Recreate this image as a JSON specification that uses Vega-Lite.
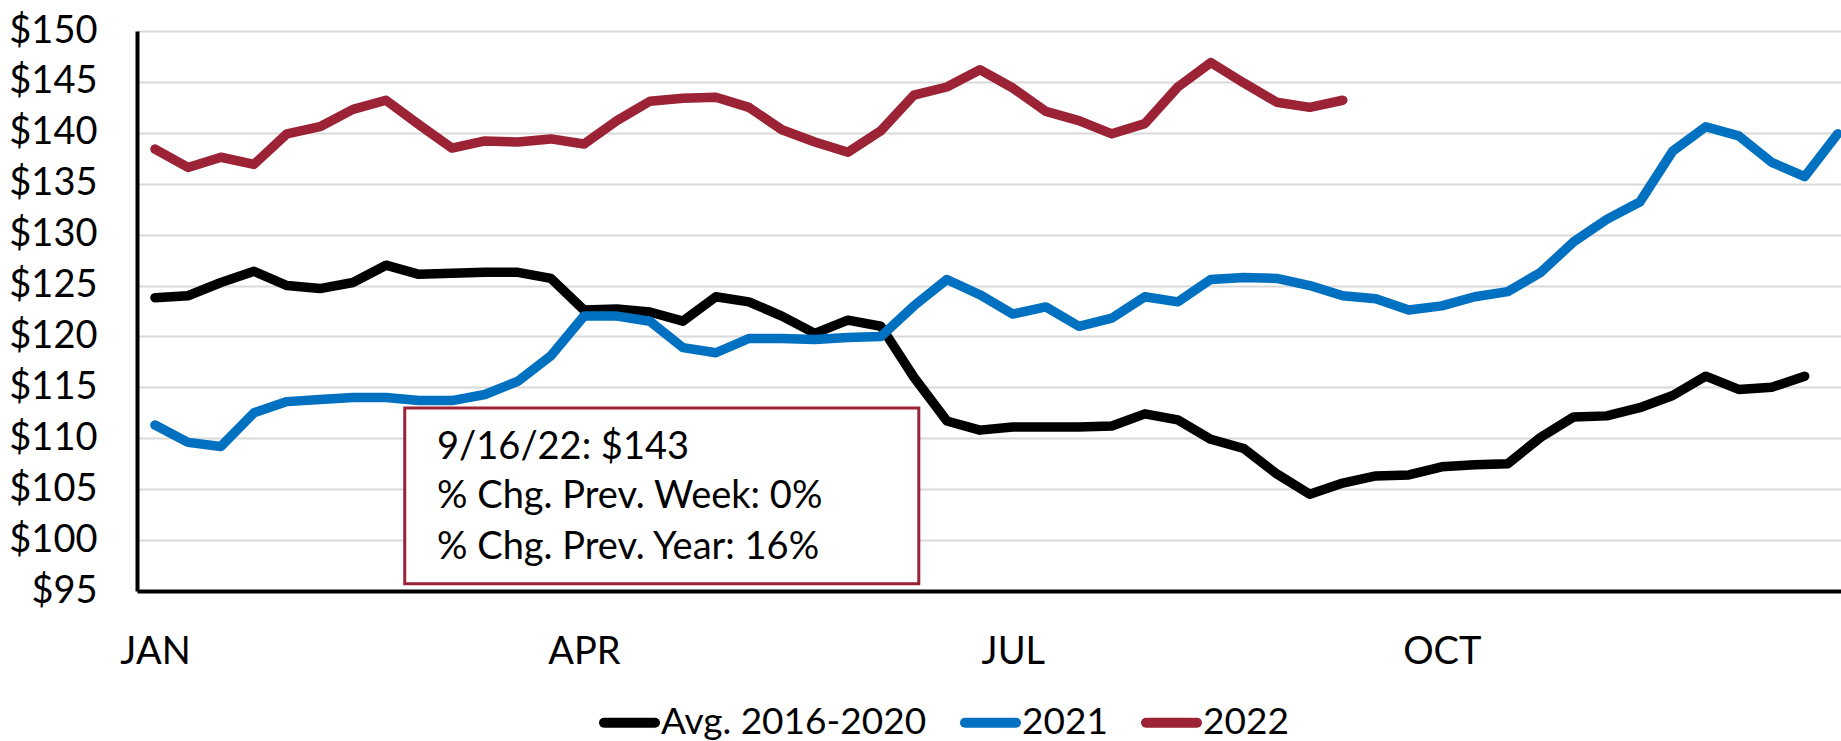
{
  "$schema": "https://vega.github.io/schema/vega-lite/v6.json",
  "autosize": "none",
  "width": 1704,
  "height": 560,
  "padding": {"left": 137, "top": 31, "right": 0, "bottom": 150},
  "background": "white",
  "config": {"view": {"stroke": null}, "font": "Lato"},
  "datasets": {
    "prices": [
      {"series": "Avg. 2016-2020", "week": 1, "price": 123.8},
      {"series": "Avg. 2016-2020", "week": 2, "price": 124.0},
      {"series": "Avg. 2016-2020", "week": 3, "price": 125.3},
      {"series": "Avg. 2016-2020", "week": 4, "price": 126.4},
      {"series": "Avg. 2016-2020", "week": 5, "price": 125.0},
      {"series": "Avg. 2016-2020", "week": 6, "price": 124.7},
      {"series": "Avg. 2016-2020", "week": 7, "price": 125.3},
      {"series": "Avg. 2016-2020", "week": 8, "price": 127.0},
      {"series": "Avg. 2016-2020", "week": 9, "price": 126.1},
      {"series": "Avg. 2016-2020", "week": 10, "price": 126.2},
      {"series": "Avg. 2016-2020", "week": 11, "price": 126.3},
      {"series": "Avg. 2016-2020", "week": 12, "price": 126.3},
      {"series": "Avg. 2016-2020", "week": 13, "price": 125.7},
      {"series": "Avg. 2016-2020", "week": 14, "price": 122.6},
      {"series": "Avg. 2016-2020", "week": 15, "price": 122.7},
      {"series": "Avg. 2016-2020", "week": 16, "price": 122.4},
      {"series": "Avg. 2016-2020", "week": 17, "price": 121.5},
      {"series": "Avg. 2016-2020", "week": 18, "price": 123.9},
      {"series": "Avg. 2016-2020", "week": 19, "price": 123.4},
      {"series": "Avg. 2016-2020", "week": 20, "price": 122.0},
      {"series": "Avg. 2016-2020", "week": 21, "price": 120.3},
      {"series": "Avg. 2016-2020", "week": 22, "price": 121.6},
      {"series": "Avg. 2016-2020", "week": 23, "price": 121.0},
      {"series": "Avg. 2016-2020", "week": 24, "price": 116.0},
      {"series": "Avg. 2016-2020", "week": 25, "price": 111.7},
      {"series": "Avg. 2016-2020", "week": 26, "price": 110.8},
      {"series": "Avg. 2016-2020", "week": 27, "price": 111.1},
      {"series": "Avg. 2016-2020", "week": 28, "price": 111.1},
      {"series": "Avg. 2016-2020", "week": 29, "price": 111.1},
      {"series": "Avg. 2016-2020", "week": 30, "price": 111.2},
      {"series": "Avg. 2016-2020", "week": 31, "price": 112.4},
      {"series": "Avg. 2016-2020", "week": 32, "price": 111.8},
      {"series": "Avg. 2016-2020", "week": 33, "price": 109.9},
      {"series": "Avg. 2016-2020", "week": 34, "price": 109.0},
      {"series": "Avg. 2016-2020", "week": 35, "price": 106.5},
      {"series": "Avg. 2016-2020", "week": 36, "price": 104.5},
      {"series": "Avg. 2016-2020", "week": 37, "price": 105.6},
      {"series": "Avg. 2016-2020", "week": 38, "price": 106.3},
      {"series": "Avg. 2016-2020", "week": 39, "price": 106.4},
      {"series": "Avg. 2016-2020", "week": 40, "price": 107.2},
      {"series": "Avg. 2016-2020", "week": 41, "price": 107.4},
      {"series": "Avg. 2016-2020", "week": 42, "price": 107.5},
      {"series": "Avg. 2016-2020", "week": 43, "price": 110.1},
      {"series": "Avg. 2016-2020", "week": 44, "price": 112.1},
      {"series": "Avg. 2016-2020", "week": 45, "price": 112.2},
      {"series": "Avg. 2016-2020", "week": 46, "price": 113.0},
      {"series": "Avg. 2016-2020", "week": 47, "price": 114.2},
      {"series": "Avg. 2016-2020", "week": 48, "price": 116.1},
      {"series": "Avg. 2016-2020", "week": 49, "price": 114.8},
      {"series": "Avg. 2016-2020", "week": 50, "price": 115.0},
      {"series": "Avg. 2016-2020", "week": 51, "price": 116.1},
      {"series": "2021", "week": 1, "price": 111.3},
      {"series": "2021", "week": 2, "price": 109.6},
      {"series": "2021", "week": 3, "price": 109.2},
      {"series": "2021", "week": 4, "price": 112.5},
      {"series": "2021", "week": 5, "price": 113.6},
      {"series": "2021", "week": 6, "price": 113.8},
      {"series": "2021", "week": 7, "price": 114.0},
      {"series": "2021", "week": 8, "price": 114.0},
      {"series": "2021", "week": 9, "price": 113.7},
      {"series": "2021", "week": 10, "price": 113.7},
      {"series": "2021", "week": 11, "price": 114.3},
      {"series": "2021", "week": 12, "price": 115.6},
      {"series": "2021", "week": 13, "price": 118.1},
      {"series": "2021", "week": 14, "price": 122.0},
      {"series": "2021", "week": 15, "price": 122.0},
      {"series": "2021", "week": 16, "price": 121.5},
      {"series": "2021", "week": 17, "price": 118.9},
      {"series": "2021", "week": 18, "price": 118.4},
      {"series": "2021", "week": 19, "price": 119.8},
      {"series": "2021", "week": 20, "price": 119.8},
      {"series": "2021", "week": 21, "price": 119.7},
      {"series": "2021", "week": 22, "price": 119.9},
      {"series": "2021", "week": 23, "price": 120.0},
      {"series": "2021", "week": 24, "price": 123.0},
      {"series": "2021", "week": 25, "price": 125.6},
      {"series": "2021", "week": 26, "price": 124.1},
      {"series": "2021", "week": 27, "price": 122.2},
      {"series": "2021", "week": 28, "price": 122.9},
      {"series": "2021", "week": 29, "price": 121.0},
      {"series": "2021", "week": 30, "price": 121.8},
      {"series": "2021", "week": 31, "price": 123.9},
      {"series": "2021", "week": 32, "price": 123.4},
      {"series": "2021", "week": 33, "price": 125.6},
      {"series": "2021", "week": 34, "price": 125.8},
      {"series": "2021", "week": 35, "price": 125.7},
      {"series": "2021", "week": 36, "price": 125.0},
      {"series": "2021", "week": 37, "price": 124.0},
      {"series": "2021", "week": 38, "price": 123.7},
      {"series": "2021", "week": 39, "price": 122.6},
      {"series": "2021", "week": 40, "price": 123.0},
      {"series": "2021", "week": 41, "price": 123.9},
      {"series": "2021", "week": 42, "price": 124.4},
      {"series": "2021", "week": 43, "price": 126.3},
      {"series": "2021", "week": 44, "price": 129.3},
      {"series": "2021", "week": 45, "price": 131.5},
      {"series": "2021", "week": 46, "price": 133.2},
      {"series": "2021", "week": 47, "price": 138.2},
      {"series": "2021", "week": 48, "price": 140.6},
      {"series": "2021", "week": 49, "price": 139.7},
      {"series": "2021", "week": 50, "price": 137.1},
      {"series": "2021", "week": 51, "price": 135.7},
      {"series": "2021", "week": 52, "price": 139.9},
      {"series": "2022", "week": 1, "price": 138.4},
      {"series": "2022", "week": 2, "price": 136.6},
      {"series": "2022", "week": 3, "price": 137.6},
      {"series": "2022", "week": 4, "price": 136.9},
      {"series": "2022", "week": 5, "price": 139.9},
      {"series": "2022", "week": 6, "price": 140.6},
      {"series": "2022", "week": 7, "price": 142.3},
      {"series": "2022", "week": 8, "price": 143.2},
      {"series": "2022", "week": 9, "price": 140.8},
      {"series": "2022", "week": 10, "price": 138.5},
      {"series": "2022", "week": 11, "price": 139.2},
      {"series": "2022", "week": 12, "price": 139.1},
      {"series": "2022", "week": 13, "price": 139.4},
      {"series": "2022", "week": 14, "price": 138.9},
      {"series": "2022", "week": 15, "price": 141.2},
      {"series": "2022", "week": 16, "price": 143.1},
      {"series": "2022", "week": 17, "price": 143.4},
      {"series": "2022", "week": 18, "price": 143.5},
      {"series": "2022", "week": 19, "price": 142.5},
      {"series": "2022", "week": 20, "price": 140.3},
      {"series": "2022", "week": 21, "price": 139.1},
      {"series": "2022", "week": 22, "price": 138.1},
      {"series": "2022", "week": 23, "price": 140.2},
      {"series": "2022", "week": 24, "price": 143.7},
      {"series": "2022", "week": 25, "price": 144.5},
      {"series": "2022", "week": 26, "price": 146.2},
      {"series": "2022", "week": 27, "price": 144.4},
      {"series": "2022", "week": 28, "price": 142.1},
      {"series": "2022", "week": 29, "price": 141.2},
      {"series": "2022", "week": 30, "price": 139.9},
      {"series": "2022", "week": 31, "price": 140.9},
      {"series": "2022", "week": 32, "price": 144.5},
      {"series": "2022", "week": 33, "price": 146.9},
      {"series": "2022", "week": 34, "price": 144.9},
      {"series": "2022", "week": 35, "price": 143.0},
      {"series": "2022", "week": 36, "price": 142.5},
      {"series": "2022", "week": 37, "price": 143.2}
    ],
    "note": [
      {"label": "9/16/22: $143", "week": 9.55, "price": 109.0},
      {"label": "% Chg. Prev. Week: 0%", "week": 9.55, "price": 104.2},
      {"label": "% Chg. Prev. Year: 16%", "week": 9.55, "price": 99.2}
    ],
    "box": [
      {"x1": 8.57, "x2": 24.15, "y1": 95.7, "y2": 112.97}
    ]
  },
  "layer": [
    {
      "data": {"name": "prices"},
      "mark": {"type": "line", "strokeWidth": 9.5, "strokeCap": "round", "strokeJoin": "round", "clip": true},
      "encoding": {
        "x": {
          "field": "week", "type": "quantitative",
          "scale": {"domain": [0.455, 52.1], "nice": false, "zero": false},
          "axis": {
            "title": null, "grid": false, "ticks": false,
            "domainColor": "#000000", "domainWidth": 4,
            "values": [1, 14, 27, 40],
            "labelExpr": "datum.value == 1 ? 'JAN' : datum.value == 14 ? 'APR' : datum.value == 27 ? 'JUL' : 'OCT'",
            "labelFontSize": 38, "labelColor": "#000000", "labelPadding": 42,
            "labelFlush": false, "labelOverlap": false
          }
        },
        "y": {
          "field": "price", "type": "quantitative",
          "scale": {"domain": [95, 150], "nice": false, "zero": false},
          "axis": {
            "title": null, "ticks": false,
            "domainColor": "#000000", "domainWidth": 4,
            "grid": true, "gridColor": "#D9D9D9", "gridWidth": 2,
            "values": [95, 100, 105, 110, 115, 120, 125, 130, 135, 140, 145, 150],
            "labelExpr": "'$' + datum.value",
            "labelFontSize": 38, "labelColor": "#000000", "labelPadding": 40
          }
        },
        "color": {
          "field": "series", "type": "nominal",
          "scale": {"domain": ["Avg. 2016-2020", "2021", "2022"], "range": ["#000000", "#0070C0", "#9B2335"]},
          "legend": {
            "title": null, "orient": "none", "direction": "horizontal",
            "legendX": 462, "legendY": 661,
            "symbolType": "stroke", "symbolSize": 2600, "symbolStrokeWidth": 10,
            "labelFontSize": 37, "labelColor": "#000000", "labelOffset": 1,
            "labelLimit": 0,
            "columnPadding": 18,
            "encode": {"symbols": {"update": {"strokeCap": {"value": "round"}}}}
          }
        }
      }
    },
    {
      "mark": {"type": "rule", "color": "#000000", "strokeWidth": 4},
      "encoding": {"y": {"datum": 150}}
    },
    {
      "data": {"name": "box"},
      "mark": {"type": "rect", "fill": "#FFFFFF", "stroke": "#9B2335", "strokeWidth": 3},
      "encoding": {
        "x": {"field": "x1", "type": "quantitative"},
        "x2": {"field": "x2"},
        "y": {"field": "y1", "type": "quantitative"},
        "y2": {"field": "y2"}
      }
    },
    {
      "data": {"name": "note"},
      "mark": {"type": "text", "align": "left", "baseline": "middle", "fontSize": 38, "color": "#000000"},
      "encoding": {
        "x": {"field": "week", "type": "quantitative"},
        "y": {"field": "price", "type": "quantitative"},
        "text": {"field": "label"}
      }
    }
  ]
}
